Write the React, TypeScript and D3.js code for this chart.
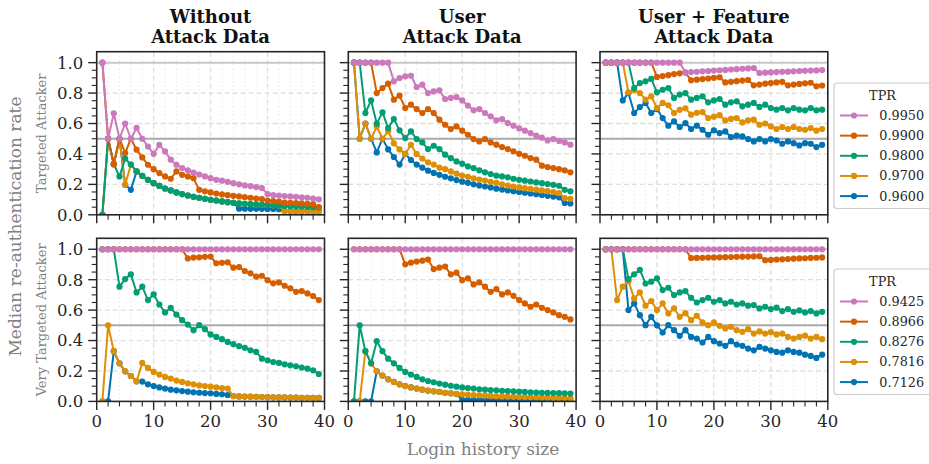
import React from "react";
import * as d3 from "d3";

// ---------------- data ----------------
const historySizes = d3.range(1, 40); // login history size 1..39
const colTitles = [["Without", "Attack Data"], ["User", "Attack Data"], ["User + Feature", "Attack Data"]];
const rowTitles = ["Targeted Attacker", "Very Targeted Attacker"];
const targetedTPR = ["0.9950", "0.9900", "0.9800", "0.9700", "0.9600"];
const veryTargetedTPR = ["0.9425", "0.8966", "0.8276", "0.7816", "0.7126"];
const seriesColors = ["#cc78bc", "#d55e00", "#029e73", "#de8f05", "#0173b2"];
const xMajorTicks = [0, 10, 20, 30, 40];
const xMinorTicks = [2, 4, 6, 8, 12, 14, 16, 18, 22, 24, 26, 28, 32, 34, 36, 38];
const yMajorTicks = [0, 0.2, 0.4, 0.6, 0.8, 1.0];
const yMinorTicks = [0.05, 0.1, 0.15, 0.25, 0.3, 0.35, 0.45, 0.5, 0.55, 0.65, 0.7, 0.75, 0.85, 0.9, 0.95];
const refLines = [0.5, 1.0];

// Targeted attacker, without attack data
const tgtNone9950 = [1.0,0.5,0.667,0.5,0.6,0.5,0.571,0.5,0.449,0.401,0.46,0.417,0.362,0.329,0.307,0.292,0.278,0.265,0.252,0.241,0.23,0.224,0.217,0.208,0.2,0.193,0.189,0.182,0.176,0.136,0.129,0.127,0.123,0.121,0.118,0.114,0.112,0.107,0.101];
const tgtNone9900 = [1.0,0.5,0.333,0.5,0.406,0.5,0.428,0.377,0.329,0.3,0.274,0.252,0.237,0.285,0.263,0.252,0.241,0.164,0.154,0.147,0.14,0.134,0.129,0.125,0.121,0.116,0.112,0.107,0.103,0.094,0.09,0.086,0.081,0.079,0.077,0.075,0.072,0.07,0.05];
const tgtNone9800 = [0,0.5,0.333,0.252,0.37,0.33,0.285,0.256,0.23,0.208,0.19,0.173,0.16,0.147,0.136,0.127,0.118,0.112,0.105,0.099,0.094,0.088,0.083,0.079,0.075,0.072,0.07,0.068,0.066,0.064,0.062,0.06,0.058,0.057,0.055,0.054,0.052,0.05,0.048];
const tgtNone9700 = [0,0.5,0.333,0.5,0.197,0.33,0.285,0.256,0.23,0.208,0.19,0.173,0.16,0.147,0.136,0.127,0.118,0.112,0.105,0.099,0.094,0.088,0.083,0.079,0.075,0.072,0.07,0.068,0.066,0.064,0.062,0.06,0.025,0.025,0.024,0.024,0.023,0.023,0.022];
const tgtNone9600 = [0,0.5,0.333,0.5,0.197,0.164,0.285,0.256,0.23,0.208,0.19,0.173,0.16,0.147,0.136,0.127,0.118,0.112,0.105,0.099,0.094,0.088,0.083,0.079,0.04,0.04,0.039,0.039,0.039,0.038,0.038,0.037,0.025,0.025,0.024,0.024,0.023,0.023,0.022];

// Targeted attacker, user attack data
const tgtUser9950 = [1,1,1,1,1,1,1,0.877,0.899,0.91,0.914,0.84,0.855,0.8,0.811,0.818,0.761,0.768,0.774,0.752,0.718,0.687,0.695,0.669,0.647,0.621,0.629,0.603,0.586,0.568,0.553,0.537,0.52,0.507,0.489,0.498,0.485,0.476,0.461];
const tgtUser9900 = [1,1,1,1,0.8,0.833,0.862,0.757,0.783,0.702,0.724,0.695,0.669,0.695,0.669,0.625,0.592,0.564,0.581,0.553,0.526,0.498,0.482,0.498,0.476,0.461,0.445,0.432,0.417,0.401,0.388,0.373,0.362,0.323,0.314,0.307,0.3,0.292,0.279];
const tgtUser9800 = [1,1,0.669,0.752,0.599,0.673,0.57,0.629,0.555,0.504,0.548,0.498,0.476,0.432,0.454,0.432,0.395,0.373,0.351,0.336,0.318,0.307,0.292,0.279,0.268,0.257,0.252,0.246,0.237,0.23,0.224,0.219,0.213,0.208,0.202,0.197,0.191,0.164,0.154];
const tgtUser9700 = [1,0.5,0.6,0.5,0.58,0.5,0.55,0.47,0.43,0.4,0.46,0.4,0.37,0.345,0.33,0.31,0.3,0.285,0.27,0.258,0.25,0.24,0.232,0.225,0.217,0.21,0.2,0.192,0.186,0.18,0.175,0.17,0.165,0.16,0.155,0.15,0.143,0.11,0.105];
const tgtUser9600 = [1,0.5,0.6,0.5,0.41,0.5,0.43,0.38,0.33,0.4,0.36,0.33,0.31,0.29,0.275,0.263,0.25,0.24,0.228,0.218,0.21,0.2,0.193,0.186,0.18,0.172,0.166,0.16,0.155,0.15,0.145,0.14,0.135,0.13,0.125,0.12,0.115,0.078,0.075];

// Targeted attacker, user + feature attack data
const tgtFeat9950 = [1,1,1,1,1,1,1,1,1,1,1,1,1,1,0.936,0.938,0.94,0.943,0.945,0.948,0.95,0.952,0.955,0.957,0.96,0.962,0.965,0.932,0.934,0.936,0.938,0.94,0.941,0.943,0.945,0.946,0.948,0.949,0.951];
const tgtFeat9900 = [1,1,1,1,1,1,1,1,1,0.906,0.912,0.918,0.925,0.93,0.935,0.884,0.888,0.892,0.896,0.9,0.904,0.87,0.874,0.878,0.882,0.886,0.851,0.856,0.862,0.866,0.87,0.874,0.851,0.856,0.86,0.864,0.868,0.845,0.85];
const tgtFeat9800 = [1,1,1,1,1,0.833,0.866,0.877,0.893,0.805,0.822,0.833,0.768,0.79,0.8,0.757,0.768,0.779,0.739,0.752,0.761,0.724,0.739,0.746,0.713,0.724,0.735,0.709,0.724,0.702,0.691,0.702,0.687,0.702,0.691,0.687,0.702,0.687,0.691];
const tgtFeat9700 = [1,1,1,1,0.805,0.82,0.8,0.757,0.779,0.702,0.735,0.72,0.669,0.69,0.7,0.658,0.67,0.675,0.636,0.645,0.655,0.62,0.63,0.636,0.607,0.62,0.625,0.592,0.6,0.581,0.564,0.577,0.564,0.577,0.564,0.559,0.57,0.553,0.564];
const tgtFeat9600 = [1,1,1,0.752,0.8,0.669,0.708,0.735,0.669,0.695,0.636,0.586,0.614,0.577,0.603,0.564,0.586,0.559,0.526,0.555,0.537,0.548,0.511,0.52,0.515,0.498,0.482,0.498,0.482,0.498,0.489,0.467,0.482,0.471,0.456,0.471,0.467,0.445,0.46];

// Very targeted attacker, without attack data
const vtgNone9425 = [1,1,1,1,1,1,1,1,1,1,1,1,1,1,1,1,1,1,1,1,1,1,1,1,1,1,1,1,1,1,1,1,1,1,1,1,1,1,1];
const vtgNone8966 = [1,1,1,1,1,1,1,1,1,1,1,1,1,1,1,0.94,0.945,0.947,0.95,0.952,0.908,0.911,0.914,0.879,0.883,0.857,0.842,0.82,0.826,0.797,0.776,0.782,0.76,0.743,0.72,0.725,0.71,0.692,0.666];
const vtgNone8276 = [1,1,1,0.754,0.804,0.835,0.716,0.754,0.666,0.703,0.637,0.585,0.615,0.571,0.534,0.505,0.468,0.501,0.475,0.44,0.424,0.409,0.391,0.376,0.363,0.352,0.336,0.325,0.281,0.27,0.259,0.253,0.244,0.237,0.231,0.222,0.215,0.204,0.18];
const vtgNone7816 = [0,0.5,0.33,0.25,0.198,0.167,0.132,0.253,0.22,0.194,0.176,0.161,0.15,0.137,0.128,0.119,0.112,0.105,0.101,0.097,0.092,0.088,0.084,0.035,0.033,0.032,0.031,0.03,0.029,0.028,0.027,0.026,0.026,0.025,0.025,0.024,0.024,0.023,0.023];
const vtgNone7126 = [0,0,0.33,0.25,0.198,0.167,0.132,0.13,0.112,0.101,0.092,0.084,0.077,0.073,0.068,0.064,0.06,0.057,0.055,0.053,0.049,0.047,0.042,0.035,0.033,0.032,0.031,0.03,0.029,0.028,0.027,0.026,0.026,0.025,0.025,0.024,0.024,0.023,0.023];

// Very targeted attacker, user attack data
const vtgUser9425 = [1,1,1,1,1,1,1,1,1,1,1,1,1,1,1,1,1,1,1,1,1,1,1,1,1,1,1,1,1,1,1,1,1,1,1,1,1,1,1];
const vtgUser8966 = [1,1,1,1,1,1,1,1,1,0.901,0.912,0.919,0.925,0.932,0.87,0.879,0.886,0.835,0.846,0.797,0.809,0.769,0.782,0.754,0.72,0.738,0.703,0.716,0.694,0.666,0.644,0.622,0.637,0.615,0.6,0.585,0.567,0.556,0.539];
const vtgUser8276 = [0,0.5,0.33,0.25,0.396,0.33,0.281,0.25,0.22,0.194,0.176,0.161,0.145,0.134,0.126,0.117,0.11,0.103,0.097,0.092,0.088,0.084,0.08,0.077,0.075,0.073,0.07,0.068,0.066,0.064,0.062,0.06,0.058,0.057,0.056,0.055,0.054,0.053,0.052];
const vtgUser7816 = [0,0,0.33,0.25,0.198,0.17,0.145,0.128,0.112,0.101,0.092,0.084,0.077,0.071,0.066,0.062,0.057,0.053,0.048,0.046,0.044,0.042,0.04,0.038,0.036,0.034,0.033,0.031,0.03,0.029,0.028,0.027,0.026,0.025,0.024,0.023,0.022,0.021,0.02];
const vtgUser7126 = [0,0,0,0,0.198,0.17,0.145,0.128,0.112,0.101,0.092,0.084,0.077,0.071,0.066,0.062,0.057,0.053,0.048,0.01,0.01,0.01,0.01,0.01,0.01,0.01,0.01,0.01,0.01,0.01,0.01,0.01,0.01,0.01,0.01,0.01,0.01,0.01,0.01];

// Very targeted attacker, user + feature attack data
const vtgFeat9425 = [1,1,1,1,1,1,1,1,1,1,1,1,1,1,1,1,1,1,1,1,1,1,1,1,1,1,1,1,1,1,1,1,1,1,1,1,1,1,1];
const vtgFeat8966 = [1,1,1,1,1,1,1,1,1,1,1,1,1,1,1,0.942,0.943,0.944,0.945,0.946,0.947,0.948,0.949,0.95,0.951,0.952,0.953,0.954,0.928,0.93,0.932,0.934,0.936,0.938,0.94,0.941,0.943,0.944,0.946];
const vtgFeat8276 = [1,1,1,1,0.804,0.835,0.864,0.775,0.787,0.809,0.732,0.747,0.699,0.716,0.725,0.681,0.65,0.666,0.681,0.655,0.666,0.644,0.655,0.637,0.644,0.629,0.633,0.611,0.622,0.607,0.616,0.594,0.607,0.589,0.598,0.585,0.594,0.578,0.589];
const vtgFeat7816 = [1,1,0.666,0.754,0.79,0.677,0.716,0.629,0.66,0.6,0.644,0.578,0.611,0.556,0.58,0.534,0.563,0.519,0.501,0.52,0.497,0.479,0.49,0.468,0.457,0.475,0.446,0.46,0.446,0.455,0.44,0.446,0.424,0.413,0.424,0.432,0.413,0.424,0.409];
const vtgFeat7126 = [1,1,1,1,0.6,0.644,0.567,0.501,0.556,0.5,0.453,0.501,0.468,0.431,0.468,0.424,0.413,0.387,0.424,0.396,0.38,0.365,0.396,0.374,0.365,0.347,0.336,0.358,0.347,0.336,0.325,0.32,0.336,0.325,0.32,0.307,0.299,0.286,0.307];

const panelSeries = [
  [
    [tgtNone9950, tgtNone9900, tgtNone9800, tgtNone9700, tgtNone9600],
    [tgtUser9950, tgtUser9900, tgtUser9800, tgtUser9700, tgtUser9600],
    [tgtFeat9950, tgtFeat9900, tgtFeat9800, tgtFeat9700, tgtFeat9600],
  ],
  [
    [vtgNone9425, vtgNone8966, vtgNone8276, vtgNone7816, vtgNone7126],
    [vtgUser9425, vtgUser8966, vtgUser8276, vtgUser7816, vtgUser7126],
    [vtgFeat9425, vtgFeat8966, vtgFeat8276, vtgFeat7816, vtgFeat7126],
  ],
];
const legendLabels = [targetedTPR, veryTargetedTPR];

// ---------------- layout ----------------
const W = 929;
const H = 464;
const colLefts = [96.7, 348.3, 600];
const panelW = 227.8;
const rowTops = [51.7, 238.3];
const panelH = 163.1;
const yMax = 1.072;
const legendTops = [83, 269];
const FONT = "'DejaVu Serif', serif";
const INK = "#262626";

function Panel({ row, col }: { row: number; col: number }) {
  const x0 = colLefts[col];
  const y0 = rowTops[row];
  const x = d3.scaleLinear().domain([0, 40]).range([x0, x0 + panelW]);
  const y = d3.scaleLinear().domain([0, yMax]).range([y0 + panelH, y0]);
  const line = d3
    .line<number>()
    .x((_, i) => x(historySizes[i]))
    .y((d) => y(d));
  const series = panelSeries[row][col];
  const order = [4, 3, 2, 1, 0];
  const bottom = y0 + panelH;
  const clipId = `clip-${row}-${col}`;
  return (
    <g>
      <defs>
        <clipPath id={clipId}>
          <rect x={x0} y={y0} width={panelW} height={panelH} />
        </clipPath>
      </defs>
      <rect x={x0} y={y0} width={panelW} height={panelH} fill="#ffffff" />
      {xMinorTicks.map((t) => (
        <line key={"xm" + t} x1={x(t)} x2={x(t)} y1={y0} y2={bottom} stroke="#e2e2e2" strokeWidth={1} strokeDasharray="1.2,3" />
      ))}
      {xMajorTicks.slice(1, -1).map((t) => (
        <line key={"xg" + t} x1={x(t)} x2={x(t)} y1={y0} y2={bottom} stroke="#dedede" strokeWidth={1.3} strokeDasharray="5,3" />
      ))}
      {yMajorTicks.slice(1, -1).map((t) => (
        <line key={"yg" + t} x1={x0} x2={x0 + panelW} y1={y(t)} y2={y(t)} stroke="#dedede" strokeWidth={1.3} strokeDasharray="5,3" />
      ))}
      {refLines.map((t) => (
        <line key={"ref" + t} x1={x0} x2={x0 + panelW} y1={y(t)} y2={y(t)} stroke={t === 0.5 ? "#a9a9a9" : "#c9c9c9"} strokeWidth={2} />
      ))}
      <g clipPath={`url(#${clipId})`}>
        {order.map((k) => (
          <g key={"s" + k}>
            <path d={line(series[k]) || ""} fill="none" stroke={seriesColors[k]} strokeWidth={2} strokeLinejoin="round" />
            {series[k].map((v, i) => (
              <circle key={i} cx={x(historySizes[i])} cy={y(v)} r={3.1} fill={seriesColors[k]} />
            ))}
          </g>
        ))}
      </g>
      <rect x={x0} y={y0} width={panelW} height={panelH} fill="none" stroke={INK} strokeWidth={1.6} />
      {/* x ticks */}
      {xMajorTicks.map((t) => (
        <line key={"xt" + t} x1={x(t)} x2={x(t)} y1={bottom} y2={bottom + 8.5} stroke={INK} strokeWidth={1.4} />
      ))}
      {xMinorTicks.map((t) => (
        <line key={"xmt" + t} x1={x(t)} x2={x(t)} y1={bottom} y2={bottom + 5} stroke={INK} strokeWidth={1.1} />
      ))}
      {/* y ticks */}
      {yMajorTicks.map((t) => (
        <line key={"yt" + t} x1={x0 - 8.5} x2={x0} y1={y(t)} y2={y(t)} stroke={INK} strokeWidth={1.4} />
      ))}
      {yMinorTicks.map((t) => (
        <line key={"ymt" + t} x1={x0 - 5} x2={x0} y1={y(t)} y2={y(t)} stroke={INK} strokeWidth={1.1} />
      ))}
      {col === 0 &&
        yMajorTicks.map((t) => (
          <text key={"yl" + t} x={x0 - 13.5} y={y(t)} dy="0.36em" textAnchor="end" fontFamily={FONT} fontSize={16.5} fill={INK}>
            {d3.format(".1f")(t)}
          </text>
        ))}
      {row === 1 &&
        xMajorTicks.map((t) => (
          <text key={"xl" + t} x={x(t)} y={bottom + 26} textAnchor="middle" fontFamily={FONT} fontSize={16.5} fill={INK}>
            {t}
          </text>
        ))}
    </g>
  );
}

function Legend({ row }: { row: number }) {
  const top = legendTops[row];
  const labels = legendLabels[row];
  return (
    <g>
      <rect x={834} y={top} width={120} height={125.5} rx={3} fill="#ffffff" stroke="#cccccc" strokeWidth={1.2} />
      <text x={882.5} y={top + 16.5} textAnchor="middle" fontFamily={FONT} fontSize={12.8} fill={INK}>
        TPR
      </text>
      {labels.map((lab, i) => {
        const cy = top + 32.5 + i * 20.15;
        return (
          <g key={lab}>
            <line x1={840} x2={868} y1={cy} y2={cy} stroke={seriesColors[i]} strokeWidth={2} />
            <circle cx={854} cy={cy} r={3.1} fill={seriesColors[i]} />
            <text x={879.3} y={cy + 4.5} fontFamily={FONT} fontSize={12.8} fill={INK}>
              {lab}
            </text>
          </g>
        );
      })}
    </g>
  );
}

export default function App() {
  return (
    <svg width={W} height={H} viewBox={`0 0 ${W} ${H}`} style={{ position: "absolute", left: 0, top: 0, background: "#ffffff" }}>
      <rect x={0} y={0} width={W} height={H} fill="#ffffff" />
      {colTitles.map((lines, c) => (
        <text key={"t" + c} textAnchor="middle" fontFamily={FONT} fontWeight="bold" fontSize={18} fill="#111111">
          <tspan x={colLefts[c] + panelW / 2} y={23}>{lines[0]}</tspan>
          <tspan x={colLefts[c] + panelW / 2} y={42.5}>{lines[1]}</tspan>
        </text>
      ))}
      {[0, 1].map((r) =>
        [0, 1, 2].map((c) => <Panel key={`${r}-${c}`} row={r} col={c} />)
      )}
      {rowTitles.map((t, r) => {
        const cy = rowTops[r] + panelH / 2;
        return (
          <text key={"r" + r} transform={`translate(46,${cy}) rotate(-90)`} textAnchor="middle" fontFamily={FONT} fontSize={13} fill="#808080">
            {t}
          </text>
        );
      })}
      <text transform={`translate(21,${(rowTops[0] + rowTops[1] + panelH) / 2}) rotate(-90)`} textAnchor="middle" fontFamily={FONT} fontSize={17} fill="#808080">
        Median re-authentication rate
      </text>
      <text x={483} y={455} textAnchor="middle" fontFamily={FONT} fontSize={17} fill="#808080">
        Login history size
      </text>
      <Legend row={0} />
      <Legend row={1} />
    </svg>
  );
}
